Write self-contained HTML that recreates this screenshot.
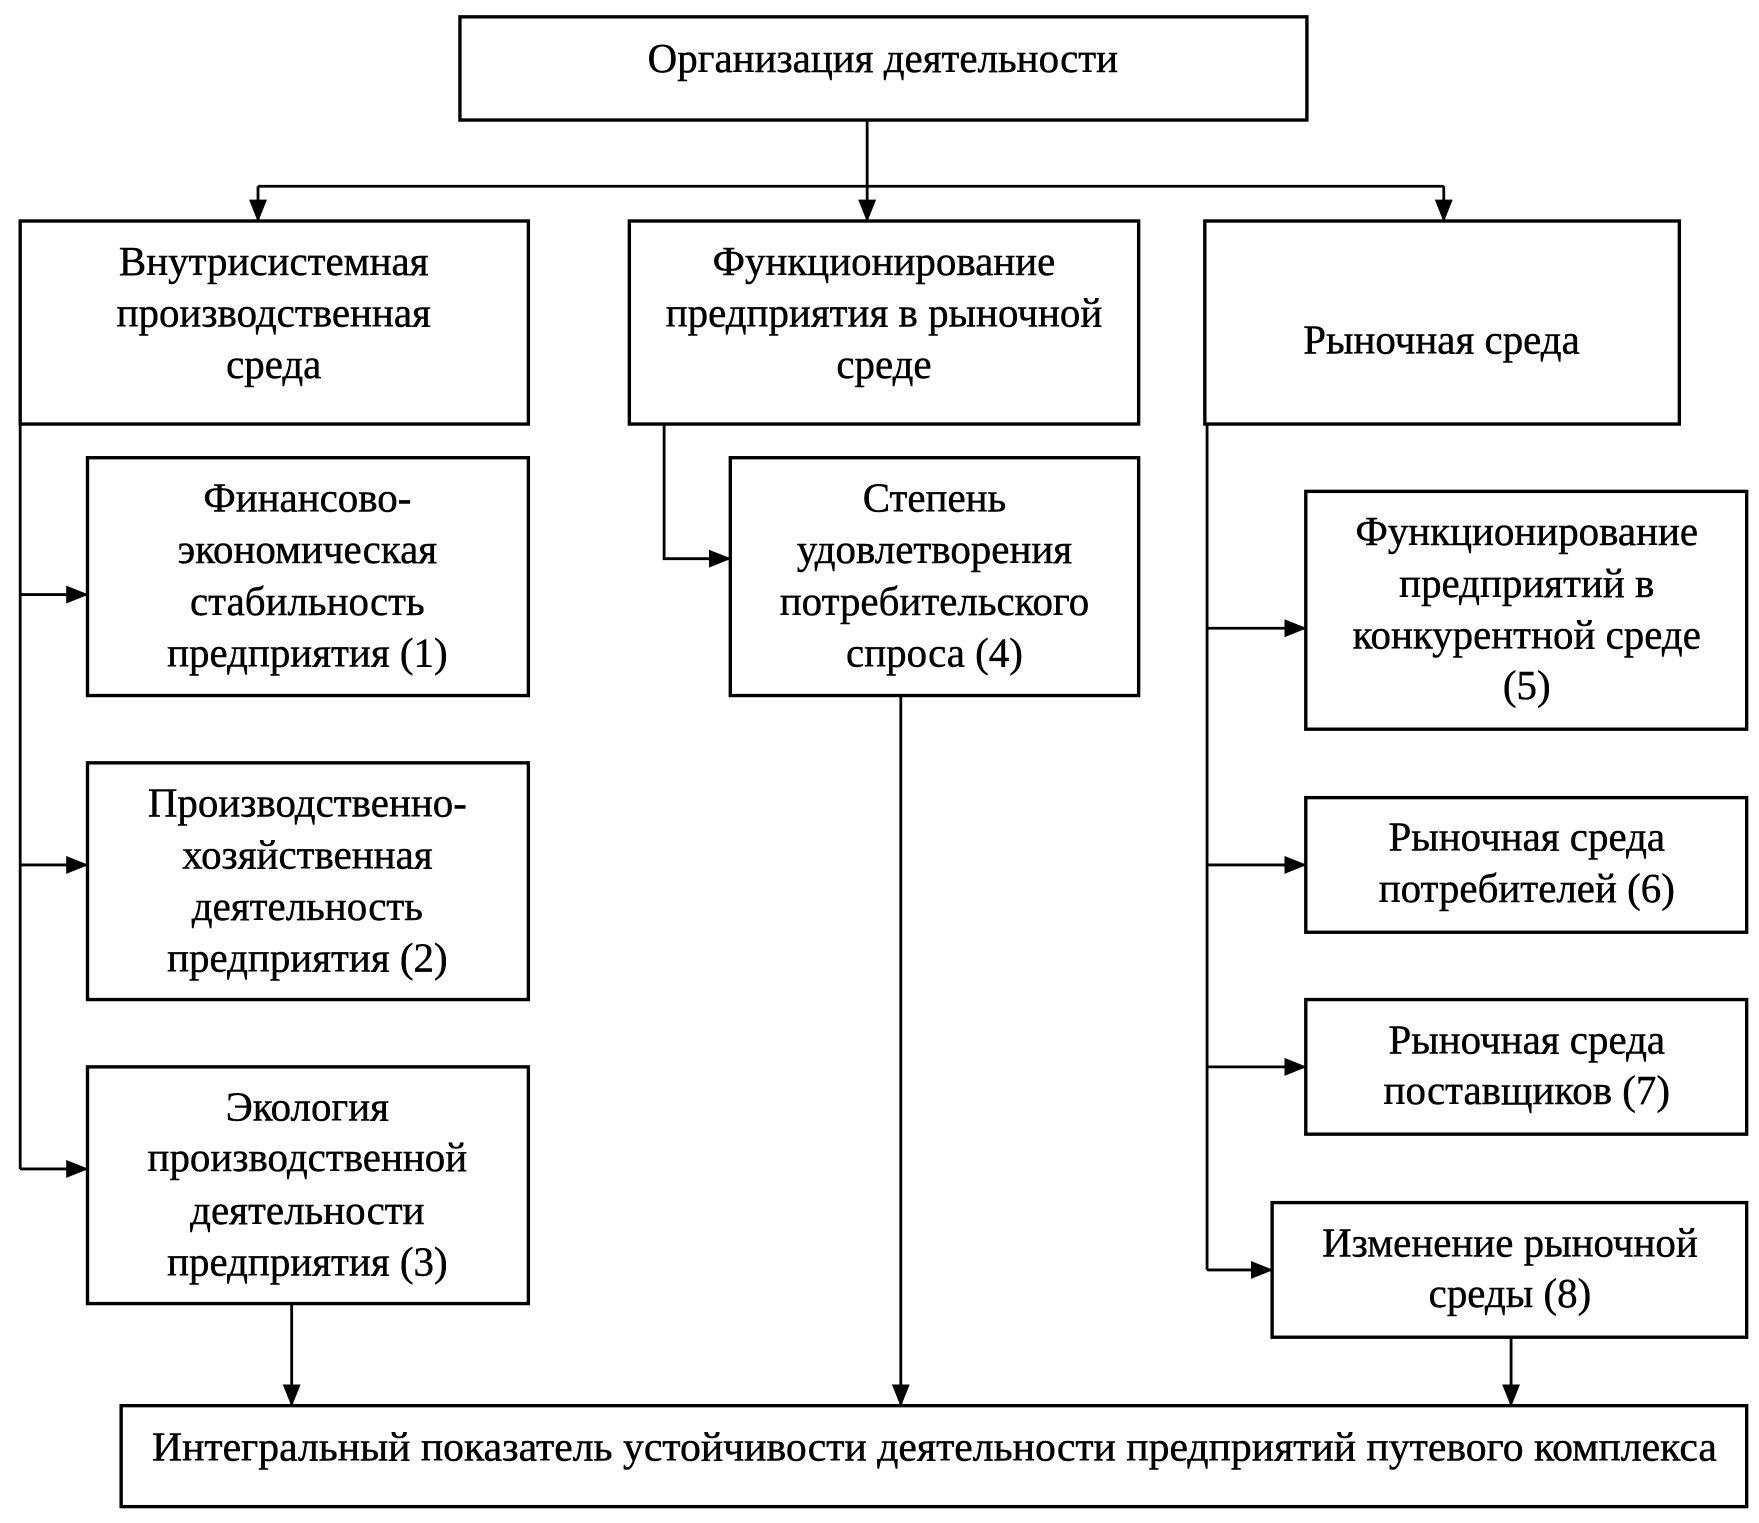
<!DOCTYPE html>
<html><head><meta charset="utf-8"><style>
html,body{margin:0;padding:0;background:#fff;}
svg{display:block;}
text{font-family:"Liberation Serif",serif;font-size:36.5px;fill:#000;stroke:#000;stroke-width:0.4px;text-anchor:middle;dominant-baseline:central;}
</style></head><body>
<svg width="1759" height="1523" viewBox="0 0 1568 1357.6" preserveAspectRatio="none" xmlns="http://www.w3.org/2000/svg">
<defs>
<marker id="b" markerWidth="20" markerHeight="20" refX="19" refY="8" orient="auto" markerUnits="userSpaceOnUse"><path d="M0,0 L20,8 L0,16 z" fill="#000"/></marker></defs>
<g fill="none" stroke="#000" stroke-width="3">
<rect x="410" y="15" width="755" height="92"/>
<rect x="18" y="197" width="453" height="181"/>
<rect x="561" y="197" width="454" height="181"/>
<rect x="1074" y="197" width="423" height="181"/>
<rect x="78" y="408" width="393" height="212"/>
<rect x="78" y="680" width="393" height="211"/>
<rect x="78" y="951" width="393" height="211"/>
<rect x="651" y="408" width="364" height="212"/>
<rect x="1164" y="438" width="393" height="212"/>
<rect x="1164" y="711" width="393" height="120"/>
<rect x="1164" y="891" width="393" height="120"/>
<rect x="1134" y="1072" width="423" height="120"/>
<rect x="108" y="1253" width="1449" height="90"/>
</g>
<g fill="none" stroke="#000" stroke-width="2.5">
<path d="M773,107 V197" marker-end="url(#b)"/>
<path d="M230,166 H1287"/>
<path d="M230,166 V197" marker-end="url(#b)"/>
<path d="M1287,166 V197" marker-end="url(#b)"/>
<path d="M18,378 V1042"/>
<path d="M18,530 H78" marker-end="url(#b)"/>
<path d="M18,771 H78" marker-end="url(#b)"/>
<path d="M18,1042 H78" marker-end="url(#b)"/>
<path d="M592,378 V498 H651" marker-end="url(#b)"/>
<path d="M803,620 V1253" marker-end="url(#b)"/>
<path d="M1076,378 V1132"/>
<path d="M1076,560 H1164" marker-end="url(#b)"/>
<path d="M1076,771 H1164" marker-end="url(#b)"/>
<path d="M1076,951 H1164" marker-end="url(#b)"/>
<path d="M1076,1132 H1134" marker-end="url(#b)"/>
<path d="M260,1162 V1253" marker-end="url(#b)"/>
<path d="M1347,1192 V1253" marker-end="url(#b)"/>
</g>
<text x="787" y="52">Организация деятельности</text>
<text x="244" y="233">Внутрисистемная</text><text x="244" y="279">производственная</text><text x="244" y="325">среда</text>
<text x="788" y="233">Функционирование</text><text x="788" y="279">предприятия в рыночной</text><text x="788" y="325">среде</text>
<text x="1285" y="303">Рыночная среда</text>
<text x="274" y="444">Финансово-</text><text x="274" y="490">экономическая</text><text x="274" y="536">стабильность</text><text x="274" y="582">предприятия (1)</text>
<text x="274" y="716">Производственно-</text><text x="274" y="762">хозяйственная</text><text x="274" y="808">деятельность</text><text x="274" y="854">предприятия (2)</text>
<text x="274" y="987">Экология</text><text x="274" y="1032">производственной</text><text x="274" y="1079">деятельности</text><text x="274" y="1125">предприятия (3)</text>
<text x="833" y="444">Степень</text><text x="833" y="490">удовлетворения</text><text x="833" y="536">потребительского</text><text x="833" y="582">спроса (4)</text>
<text x="1361" y="474">Функционирование</text><text x="1361" y="520">предприятий в</text><text x="1361" y="566">конкурентной среде</text><text x="1361" y="611">(5)</text>
<text x="1361" y="746">Рыночная среда</text><text x="1361" y="792">потребителей (6)</text>
<text x="1361" y="927">Рыночная среда</text><text x="1361" y="972">поставщиков (7)</text>
<text x="1346" y="1108">Изменение рыночной</text><text x="1346" y="1153">среды (8)</text>
<text x="833" y="1290" textLength="1395" lengthAdjust="spacingAndGlyphs">Интегральный показатель устойчивости деятельности предприятий путевого комплекса</text>
</svg>
</body></html>
